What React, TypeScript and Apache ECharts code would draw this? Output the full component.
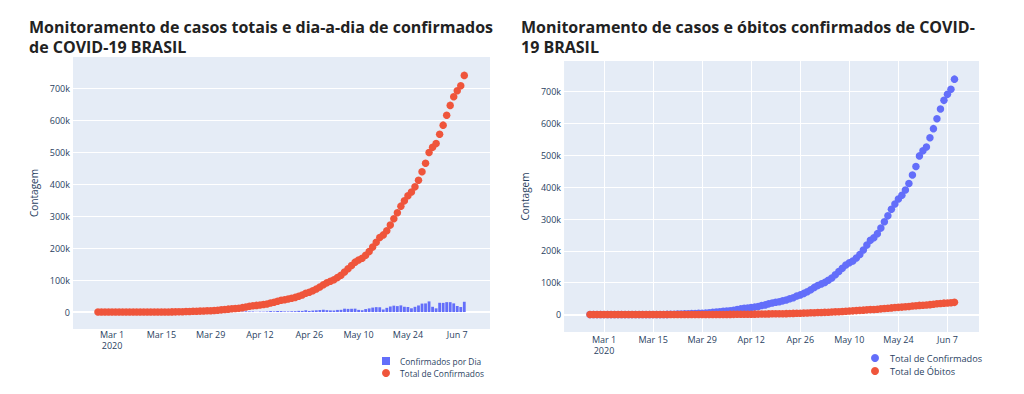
import React, { useEffect, useRef } from 'react';
import * as echarts from 'echarts';

// ---------------- data ----------------
const startDate = '2020-02-26';

const totalConfirmed = [
  1, 1, 1, 2,
  2, 2, 2, 3, 8, 13, 19, 25, 25, 34, 52, 77, 98, 121, 200, 234, 291, 428, 621, 904, 1128, 1546, 1891, 2201, 2433, 2915, 3417, 3904, 4256, 4579, 5717,
  6836, 8044, 9056, 10278, 11130, 12056, 13717, 15927, 17857, 19638, 20727, 22169, 23430, 25262, 28320, 30425, 33682, 36599, 38654, 40581, 43079, 45757, 49492, 52995, 58509, 61888, 66501, 71886, 78162, 85380,
  91299, 96396, 101147, 107780, 114715, 125218, 135106, 145328, 155939, 162699, 168331, 177589, 188974, 202918, 218223, 233142, 241080, 254220, 271628, 291579, 310087, 330890, 347398, 363211, 374898, 391222, 411821, 438238, 465166, 498440, 514849,
  526447, 555383, 584016, 614941, 645771, 672846, 691758, 707412, 739503,
];

const dailyConfirmed = [
  1, 0, 0, 1,
  0, 0, 0, 1, 5, 5, 6, 6, 0, 9, 18, 25, 21, 23, 79, 34, 57, 137, 193, 283, 224, 418, 345, 310, 232, 482, 502, 487, 352, 323, 1138,
  1119, 1208, 1012, 1222, 852, 926, 1661, 2210, 1930, 1781, 1089, 1442, 1261, 1832, 3058, 2105, 3257, 2917, 2055, 1927, 2498, 2678, 3735, 3503, 5514, 3379, 4613, 5385, 6276, 7218,
  5919, 5097, 4751, 6633, 6935, 10503, 9888, 10222, 10611, 6760, 5632, 9258, 11385, 13944, 15305, 14919, 7938, 13140, 17408, 19951, 18508, 20803, 16508, 15813, 11687, 16324, 20599, 26417, 26928, 33274, 16409,
  11598, 28936, 28633, 30925, 30830, 27075, 18912, 15654, 32091,
];

const totalDeaths = [
  0, 0, 0, 0,
  0, 0, 0, 0, 0, 0, 0, 0, 0, 0, 0, 0, 0, 0, 0, 0, 1, 4, 7, 11, 18, 25, 34, 46, 57, 77, 92, 111, 136, 159, 201,
  240, 324, 359, 445, 486, 553, 667, 800, 941, 1056, 1124, 1223, 1328, 1532, 1736, 1924, 2141, 2354, 2462, 2587, 2741, 2906, 3331, 3704, 4057, 4286, 4603, 5083, 5513, 6006,
  6412, 6761, 7051, 7367, 7921, 8536, 9146, 9897, 10627, 11123, 11653, 12461, 13240, 13999, 14817, 15633, 16118, 16792, 17971, 18859, 20047, 21048, 22013, 22666, 23473, 24512, 25598, 26754, 27878, 28834, 29314,
  29937, 31199, 32548, 34021, 35026, 35930, 36455, 37134, 38406,
];

const xTickDates = ['2020-03-01', '2020-03-15', '2020-03-29', '2020-04-12', '2020-04-26', '2020-05-10', '2020-05-24', '2020-06-07'];
const xTickLabels = ['Mar 1\n2020', 'Mar 15', 'Mar 29', 'Apr 12', 'Apr 26', 'May 10', 'May 24', 'Jun 7'];
const yTickValues = [0, 100000, 200000, 300000, 400000, 500000, 600000, 700000];
const yTickLabels = ['0', '100k', '200k', '300k', '400k', '500k', '600k', '700k'];

const titleLeft = 'Monitoramento de casos totais e dia-a-dia de confirmados\nde COVID-19 BRASIL';
const titleRight = 'Monitoramento de casos e óbitos confirmados de COVID-\n19 BRASIL';
const yAxisName = 'Contagem';
const nameDaily = 'Confirmados por Dia';
const nameTotal = 'Total de Confirmados';
const nameDeaths = 'Total de Óbitos';

// ---------------- helpers ----------------
const DAY = 86400000;
const REF = Date.UTC(2020, 2, 1);
function dayOffset(iso: string): number {
  const [y, m, d] = iso.split('-').map(Number);
  return Math.round((Date.UTC(y, m - 1, d) - REF) / DAY);
}
const startOffset = dayOffset(startDate);
const xs = totalConfirmed.map((_, i) => startOffset + i);
const tickOffsets = xTickDates.map(dayOffset);

const FONT = 'Open Sans';
const TICK_COLOR = '#2a3f5f';
const BG = '#E5ECF6';
const RED = '#EF553B';
const BLUE = '#636EFA';

function xLabel(v: number): string {
  const i = tickOffsets.findIndex((t) => Math.abs(t - v) < 1e-6);
  return i >= 0 ? xTickLabels[i] : '';
}
function yLabel(v: number): string {
  const i = yTickValues.findIndex((t) => Math.abs(t - v) < 1e-6);
  return i >= 0 ? yTickLabels[i] : '';
}

function axes(xMin: number, xMax: number, yMin: number, yMax: number, vGrid: boolean, nameGap: number, xLabelMargin: number) {
  return {
    xAxis: {
      type: 'value',
      min: xMin,
      max: xMax,
      axisLine: { show: false },
      axisTick: { show: false, customValues: tickOffsets },
      splitLine: { show: vGrid, lineStyle: { color: '#ffffff', width: 1 } },
      axisLabel: {
        customValues: tickOffsets,
        formatter: xLabel,
        fontFamily: FONT,
        fontSize: 9,
        lineHeight: 11,
        color: TICK_COLOR,
        margin: xLabelMargin,
      },
    },
    yAxis: {
      type: 'value',
      min: yMin,
      max: yMax,
      name: yAxisName,
      nameLocation: 'middle',
      nameGap: nameGap,
      nameTextStyle: { fontFamily: FONT, fontSize: 10, color: TICK_COLOR },
      axisLine: { show: false },
      axisTick: { show: false, customValues: yTickValues },
      splitLine: { show: true, lineStyle: { color: '#ffffff', width: 1 } },
      axisLabel: {
        customValues: yTickValues,
        formatter: yLabel,
        fontFamily: FONT,
        fontSize: 9,
        color: TICK_COLOR,
        margin: 3,
      },
    },
  };
}

function zeroLineSeries() {
  return {
    type: 'line',
    data: [],
    silent: true,
    z: 1,
    markLine: {
      z: 1,
      silent: true,
      symbol: ['none', 'none'],
      label: { show: false },
      lineStyle: { color: '#ffffff', width: 2, type: 'solid' },
      data: [{ yAxis: 0 }],
    },
  };
}

function titleOpt(text: string, left: number) {
  return {
    text,
    left,
    top: 16.5,
    padding: 0,
    textStyle: { fontFamily: FONT, fontWeight: 'bold', fontSize: 16, lineHeight: 20, color: '#222222' },
  };
}

export default function App() {
  const leftRef = useRef<HTMLDivElement>(null);
  const rightRef = useRef<HTMLDivElement>(null);

  useEffect(() => {
    document.body.style.margin = '0';
    const lc = echarts.init(leftRef.current!, undefined, { renderer: 'svg' });
    const rc = echarts.init(rightRef.current!, undefined, { renderer: 'svg' });

    lc.setOption({
      animation: false,
      title: titleOpt(titleLeft, 29),
      grid: { left: 73, right: 22, top: 57, bottom: 65, backgroundColor: BG, show: true, borderWidth: 0 },
      ...axes(-11.08, 107.3, -53000, 797000, false, 34, 0),
      legend: {
        orient: 'vertical',
        left: 377,
        top: 350,
        itemWidth: 8,
        itemHeight: 8,
        itemGap: 0,
        textStyle: { fontFamily: FONT, fontSize: 8.4, color: TICK_COLOR, lineHeight: 12, padding: [0, 0, 0, 5] },
        data: [
          { name: nameDaily, icon: 'rect' },
          { name: nameTotal, icon: 'circle' },
        ],
      },
      series: [
        zeroLineSeries(),
        {
          name: nameDaily,
          type: 'bar',
          barWidth: 2.8,
          itemStyle: { color: BLUE },
          data: xs.map((x, i) => [x, dailyConfirmed[i]]),
          z: 2,
        },
        {
          name: nameTotal,
          type: 'scatter',
          symbol: 'circle',
          symbolSize: 7.5,
          itemStyle: { color: RED, opacity: 1 },
          data: xs.map((x, i) => [x, totalConfirmed[i]]),
          z: 3,
        },
      ],
    });

    rc.setOption({
      animation: false,
      title: titleOpt(titleRight, 9),
      grid: { left: 51, right: 45, top: 61, bottom: 62, backgroundColor: BG, show: true, borderWidth: 0 },
      ...axes(-11.4, 107.0, -54700, 796500, true, 34, 2),
      legend: {
        orient: 'vertical',
        left: 354,
        top: 347,
        itemWidth: 8,
        itemHeight: 8,
        itemGap: 1,
        textStyle: { fontFamily: FONT, fontSize: 9.2, color: TICK_COLOR, lineHeight: 12, padding: [0, 0, 0, 6] },
        data: [
          { name: nameTotal, icon: 'circle' },
          { name: nameDeaths, icon: 'circle' },
        ],
      },
      series: [
        zeroLineSeries(),
        {
          name: nameTotal,
          type: 'scatter',
          symbol: 'circle',
          symbolSize: 7.5,
          itemStyle: { color: BLUE, opacity: 1 },
          data: xs.map((x, i) => [x, totalConfirmed[i]]),
          z: 2,
        },
        {
          name: nameDeaths,
          type: 'scatter',
          symbol: 'circle',
          symbolSize: 7.5,
          itemStyle: { color: RED, opacity: 1 },
          data: xs.map((x, i) => [x, totalDeaths[i]]),
          z: 3,
        },
      ],
    });

    return () => {
      lc.dispose();
      rc.dispose();
    };
  }, []);

  return (
    <div style={{ position: 'relative', width: 1024, height: 394 }}>
      <div ref={leftRef} style={{ position: 'absolute', left: 0, top: 0, width: 512, height: 394 }} />
      <div ref={rightRef} style={{ position: 'absolute', left: 512, top: 0, width: 512, height: 394 }} />
    </div>
  );
}
